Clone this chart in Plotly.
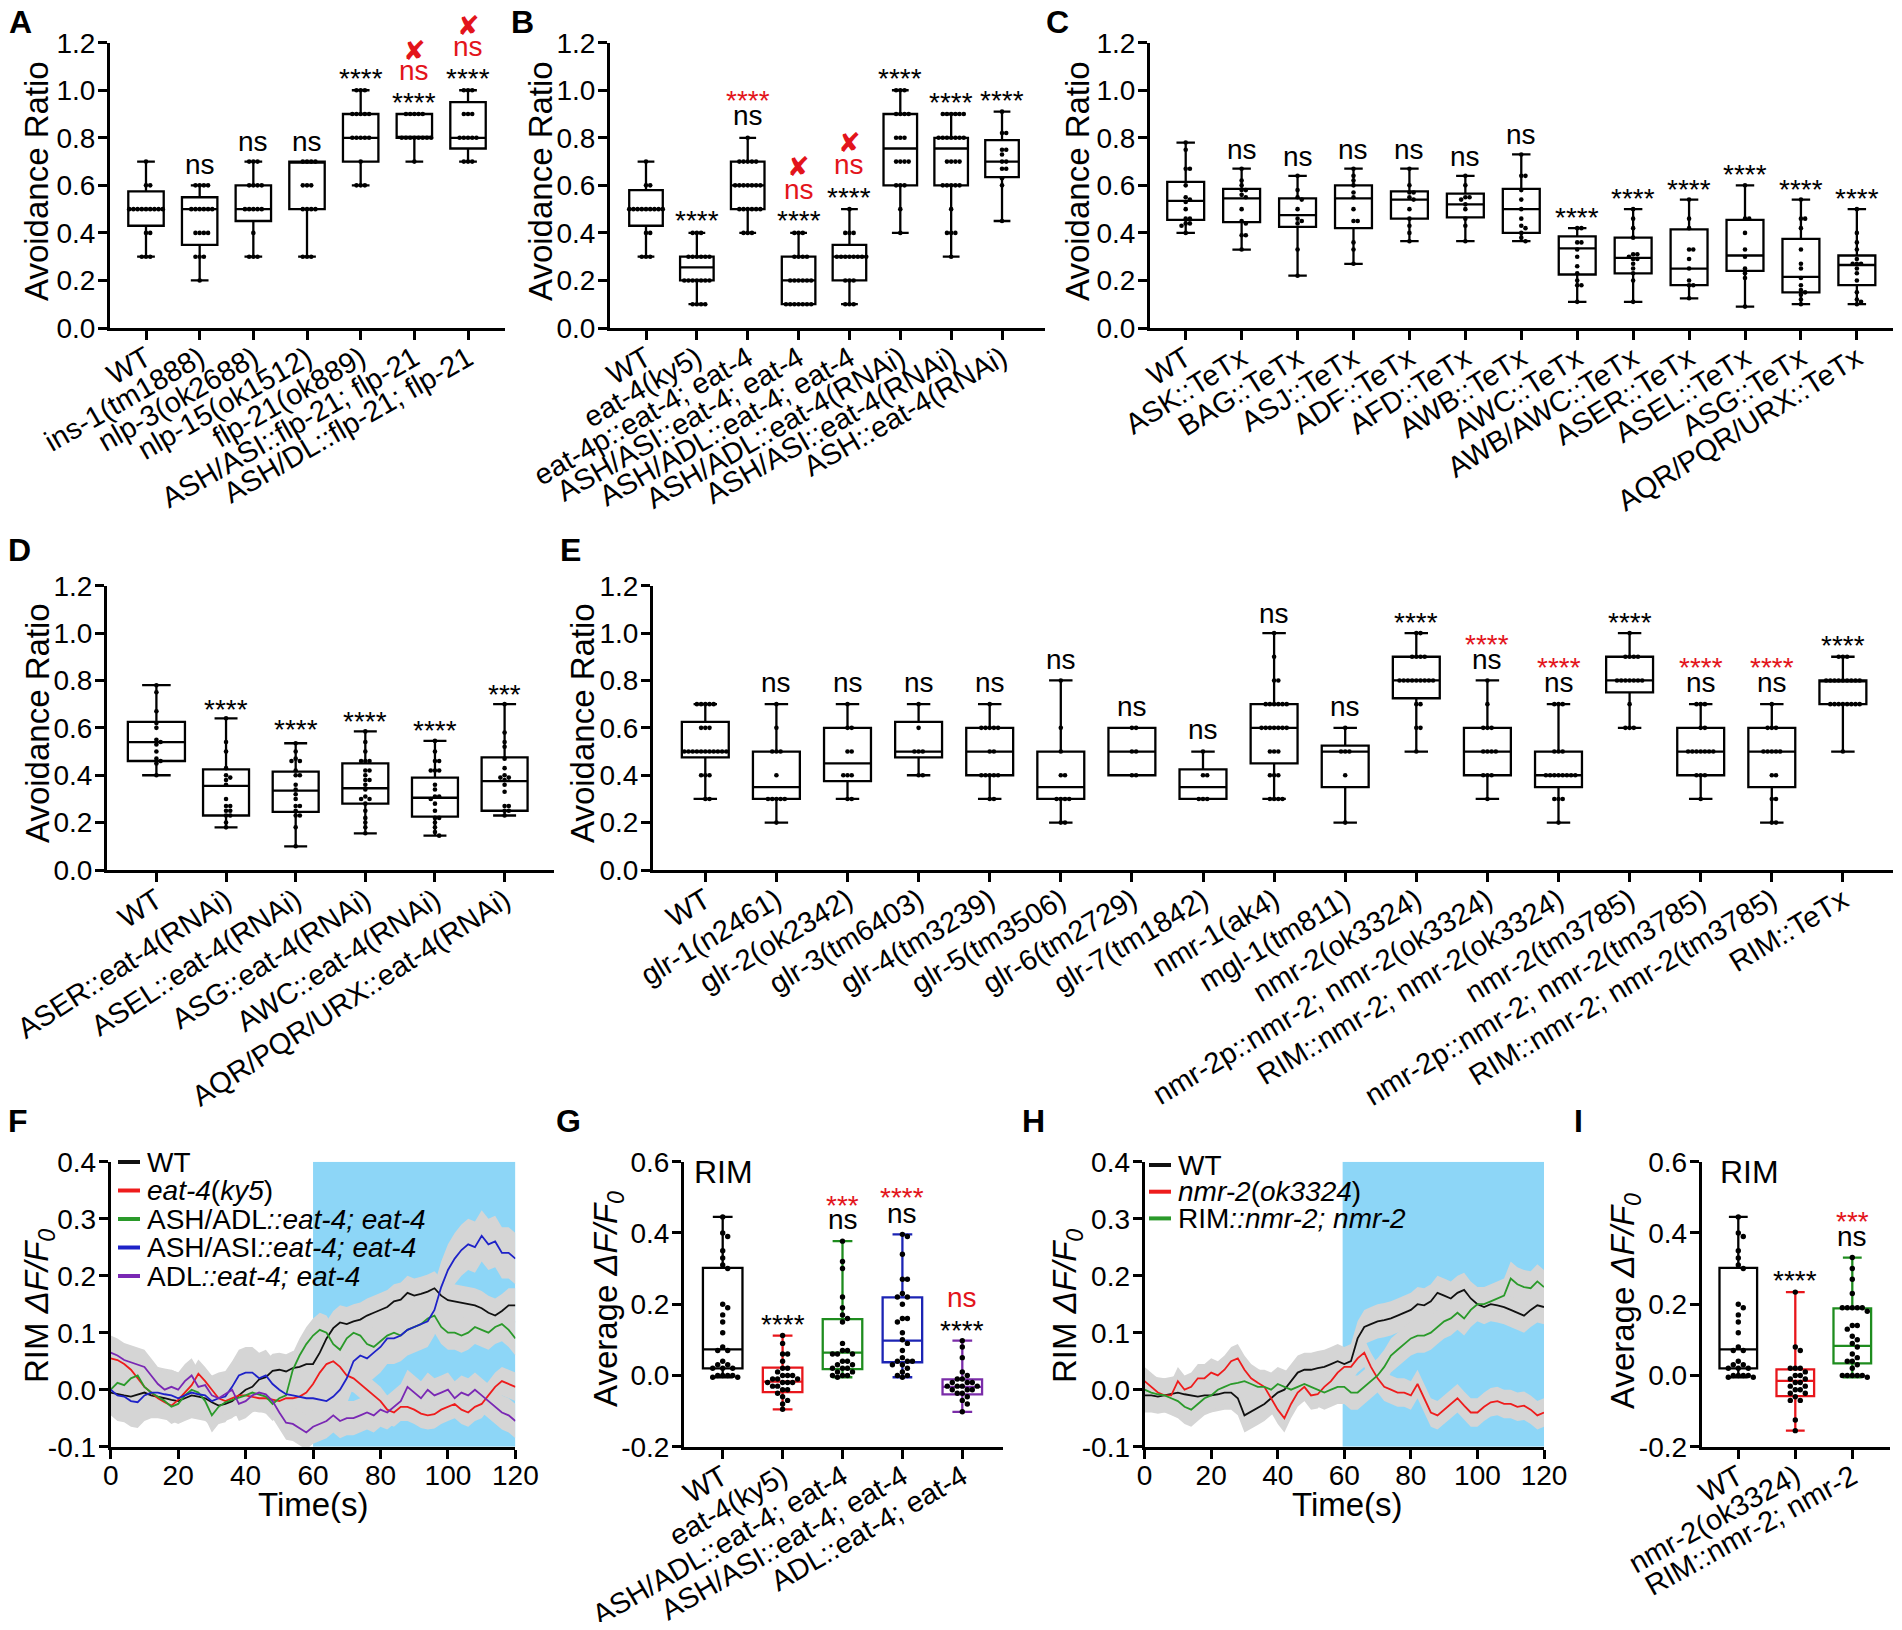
import plotly.graph_objects as go

# ---------------- DATA ----------------
# A: neuropeptide mutants, avoidance ratio
a_cats = ['WT', 'ins-1(tm1888)', 'nlp-3(ok2688)', 'nlp-15(ok1512)', 'flp-21(ok889)',
          'ASH/ASI::flp-21; flp-21', 'ASH/DL::flp-21; flp-21']
a_q1 = [0.43, 0.35, 0.45, 0.5, 0.7, 0.8, 0.755]
a_med = [0.5, 0.5, 0.5, 0.7, 0.8, 0.8, 0.8]
a_q3 = [0.575, 0.55, 0.6, 0.7, 0.9, 0.9, 0.95]
a_lo = [0.3, 0.2, 0.3, 0.3, 0.6, 0.7, 0.7]
a_hi = [0.7, 0.6, 0.7, 0.7, 1.0, 0.9, 1.0]
a_pts = [
    [0.7, 0.6, 0.6, 0.5, 0.5, 0.5, 0.5, 0.5, 0.5, 0.5, 0.5, 0.5, 0.4, 0.4, 0.3, 0.3, 0.3],
    [0.6, 0.6, 0.6, 0.6, 0.5, 0.5, 0.5, 0.5, 0.5, 0.5, 0.4, 0.4, 0.4, 0.4, 0.3, 0.3, 0.3, 0.2],
    [0.7, 0.7, 0.7, 0.6, 0.6, 0.6, 0.6, 0.5, 0.5, 0.5, 0.5, 0.5, 0.4, 0.3, 0.3, 0.3],
    [0.7, 0.7, 0.7, 0.7, 0.6, 0.6, 0.6, 0.5, 0.5, 0.5, 0.5, 0.3, 0.3, 0.3],
    [1.0, 1.0, 1.0, 0.9, 0.9, 0.9, 0.9, 0.9, 0.8, 0.8, 0.8, 0.8, 0.8, 0.7, 0.6, 0.6, 0.6],
    [0.9, 0.9, 0.9, 0.9, 0.9, 0.8, 0.8, 0.8, 0.8, 0.8, 0.8, 0.8, 0.8, 0.7],
    [1.0, 1.0, 1.0, 0.9, 0.9, 0.9, 0.8, 0.8, 0.8, 0.8, 0.8, 0.7, 0.7, 0.7],
]
a_marks = [(1, 0.679, 'ns', 'k'), (2, 0.777, 'ns', 'k'), (3, 0.777, 'ns', 'k'),
           (4, 1.074, '****', 'k'),
           (5, 0.973, '****', 'k'), (5, 1.074, 'ns', 'r'), (5, 1.169, '✘', 'r'),
           (6, 1.074, '****', 'k'), (6, 1.176, 'ns', 'r'), (6, 1.274, '✘', 'r')]

# B: eat-4 rescue / RNAi
b_cats = ['WT', 'eat-4(ky5)', 'eat-4p::eat-4; eat-4', 'ASH/ASI::eat-4; eat-4',
          'ASH/ADL::eat-4; eat-4', 'ASH/ADL::eat-4(RNAi)', 'ASH/ASI::eat-4(RNAi)',
          'ASH::eat-4(RNAi)']
b_q1 = [0.43, 0.2, 0.5, 0.1, 0.2, 0.6, 0.6, 0.635]
b_med = [0.5, 0.255, 0.6, 0.2, 0.3, 0.755, 0.755, 0.7]
b_q3 = [0.58, 0.3, 0.7, 0.3, 0.35, 0.9, 0.8, 0.79]
b_lo = [0.3, 0.1, 0.4, 0.1, 0.1, 0.4, 0.3, 0.45]
b_hi = [0.7, 0.4, 0.8, 0.4, 0.5, 1.0, 0.9, 0.91]
b_pts = [
    [0.7, 0.6, 0.6, 0.5, 0.5, 0.5, 0.5, 0.5, 0.5, 0.5, 0.5, 0.5, 0.4, 0.4, 0.3, 0.3, 0.3],
    [0.4, 0.4, 0.4, 0.3, 0.3, 0.3, 0.3, 0.3, 0.3, 0.2, 0.2, 0.2, 0.2, 0.2, 0.2, 0.2,
     0.1, 0.1, 0.1, 0.1],
    [0.8, 0.7, 0.7, 0.7, 0.7, 0.7, 0.6, 0.6, 0.6, 0.6, 0.6, 0.6, 0.6, 0.5, 0.5, 0.5,
     0.5, 0.5, 0.5, 0.4, 0.4, 0.4],
    [0.4, 0.4, 0.4, 0.3, 0.3, 0.3, 0.3, 0.2, 0.2, 0.2, 0.2, 0.2, 0.2, 0.1, 0.1, 0.1,
     0.1, 0.1, 0.1, 0.1],
    [0.5, 0.4, 0.4, 0.4, 0.3, 0.3, 0.3, 0.3, 0.3, 0.3, 0.3, 0.3, 0.2, 0.2, 0.2, 0.1, 0.1, 0.1],
    [1.0, 1.0, 1.0, 0.9, 0.9, 0.9, 0.9, 0.8, 0.8, 0.8, 0.7, 0.7, 0.7, 0.7, 0.6, 0.6,
     0.6, 0.5, 0.4],
    [0.9, 0.9, 0.9, 0.9, 0.9, 0.9, 0.8, 0.8, 0.8, 0.8, 0.8, 0.8, 0.8, 0.7, 0.7, 0.7,
     0.7, 0.6, 0.6, 0.6, 0.6, 0.6, 0.5, 0.4, 0.4, 0.4, 0.3],
    [0.91, 0.82, 0.82, 0.75, 0.75, 0.73, 0.7, 0.7, 0.67, 0.67, 0.63, 0.6, 0.45],
]
b_marks = [(1, 0.477, '****', 'k'),
           (2, 0.982, '****', 'r'), (2, 0.884, 'ns', 'k'),
           (3, 0.477, '****', 'k'), (3, 0.575, 'ns', 'r'), (3, 0.681, '✘', 'r'),
           (4, 0.575, '****', 'k'), (4, 0.681, 'ns', 'r'), (4, 0.779, '✘', 'r'),
           (5, 1.074, '****', 'k'), (6, 0.973, '****', 'k'), (7, 0.982, '****', 'k')]

# C: TeTx silencing
c_cats = ['WT', 'ASK::TeTx', 'BAG::TeTx', 'ASJ::TeTx', 'ADF::TeTx', 'AFD::TeTx',
          'AWB::TeTx', 'AWC::TeTx', 'AWB/AWC::TeTx', 'ASER::TeTx', 'ASEL::TeTx',
          'ASG::TeTx', 'AQR/PQR/URX::TeTx']
c_q1 = [0.455, 0.445, 0.425, 0.42, 0.46, 0.465, 0.4, 0.225, 0.23, 0.18, 0.24, 0.15, 0.18]
c_med = [0.535, 0.545, 0.475, 0.545, 0.54, 0.52, 0.5, 0.335, 0.295, 0.25, 0.305, 0.215, 0.265]
c_q3 = [0.615, 0.585, 0.545, 0.6, 0.575, 0.565, 0.585, 0.385, 0.38, 0.415, 0.455, 0.375, 0.305]
c_lo = [0.4, 0.33, 0.22, 0.27, 0.365, 0.365, 0.365, 0.11, 0.11, 0.125, 0.09, 0.1, 0.1]
c_hi = [0.78, 0.67, 0.64, 0.67, 0.67, 0.64, 0.73, 0.42, 0.5, 0.54, 0.6, 0.54, 0.5]
c_pts = [
    [0.78, 0.75, 0.67, 0.67, 0.6, 0.55, 0.54, 0.53, 0.5, 0.46, 0.46, 0.44, 0.44, 0.43, 0.4],
    [0.67, 0.62, 0.6, 0.58, 0.58, 0.56, 0.55, 0.5, 0.45, 0.44, 0.39, 0.39, 0.33],
    [0.64, 0.58, 0.55, 0.54, 0.5, 0.46, 0.45, 0.44, 0.33, 0.22],
    [0.67, 0.64, 0.62, 0.6, 0.57, 0.55, 0.5, 0.45, 0.45, 0.36, 0.33, 0.27],
    [0.67, 0.6, 0.57, 0.57, 0.55, 0.54, 0.5, 0.46, 0.43, 0.4, 0.365],
    [0.64, 0.6, 0.55, 0.55, 0.54, 0.52, 0.5, 0.46, 0.43, 0.365],
    [0.73, 0.64, 0.64, 0.58, 0.54, 0.5, 0.46, 0.43, 0.42, 0.4, 0.38, 0.365],
    [0.42, 0.42, 0.36, 0.36, 0.33, 0.3, 0.26, 0.23, 0.2, 0.18, 0.18, 0.11],
    [0.5, 0.46, 0.42, 0.38, 0.31, 0.31, 0.3, 0.29, 0.29, 0.27, 0.25, 0.23, 0.2, 0.11],
    [0.54, 0.46, 0.42, 0.33, 0.33, 0.29, 0.25, 0.2, 0.18, 0.18, 0.125],
    [0.6, 0.46, 0.46, 0.4, 0.33, 0.3, 0.25, 0.23, 0.21, 0.09],
    [0.54, 0.46, 0.46, 0.42, 0.33, 0.27, 0.25, 0.21, 0.18, 0.16, 0.15, 0.14, 0.12, 0.1],
    [0.5, 0.4, 0.36, 0.33, 0.29, 0.27, 0.27, 0.27, 0.25, 0.23, 0.2, 0.15, 0.12, 0.11, 0.1],
]
c_marks = [(1, 0.742, 'ns', 'k'), (2, 0.714, 'ns', 'k'), (3, 0.742, 'ns', 'k'),
           (4, 0.742, 'ns', 'k'), (5, 0.714, 'ns', 'k'), (6, 0.805, 'ns', 'k'),
           (7, 0.49, '****', 'k'), (8, 0.57, '****', 'k'), (9, 0.609, '****', 'k'),
           (10, 0.672, '****', 'k'), (11, 0.609, '****', 'k'), (12, 0.57, '****', 'k')]

# D: cell-specific eat-4 RNAi
d_cats = ['WT', 'ASER::eat-4(RNAi)', 'ASEL::eat-4(RNAi)', 'ASG::eat-4(RNAi)',
          'AWC::eat-4(RNAi)', 'AQR/PQR/URX::eat-4(RNAi)']
d_q1 = [0.46, 0.23, 0.245, 0.28, 0.225, 0.25]
d_med = [0.54, 0.355, 0.335, 0.345, 0.305, 0.375]
d_q3 = [0.625, 0.425, 0.415, 0.45, 0.39, 0.475]
d_lo = [0.4, 0.18, 0.1, 0.155, 0.145, 0.23]
d_hi = [0.78, 0.64, 0.535, 0.585, 0.545, 0.7]
d_pts = [
    [0.78, 0.75, 0.67, 0.62, 0.6, 0.55, 0.54, 0.53, 0.5, 0.47, 0.46, 0.45, 0.4],
    [0.64, 0.54, 0.5, 0.43, 0.4, 0.39, 0.38, 0.36, 0.3, 0.27, 0.27, 0.25, 0.25, 0.23,
     0.23, 0.2, 0.18],
    [0.535, 0.5, 0.47, 0.46, 0.46, 0.42, 0.4, 0.4, 0.36, 0.34, 0.32, 0.3, 0.27, 0.27,
     0.25, 0.23, 0.23, 0.18, 0.1],
    [0.585, 0.54, 0.5, 0.46, 0.46, 0.46, 0.42, 0.42, 0.4, 0.38, 0.38, 0.36, 0.34, 0.31,
     0.3, 0.3, 0.28, 0.25, 0.22, 0.2, 0.18, 0.155],
    [0.545, 0.5, 0.46, 0.46, 0.42, 0.42, 0.42, 0.36, 0.34, 0.31, 0.31, 0.3, 0.28, 0.25,
     0.22, 0.22, 0.2, 0.18, 0.16, 0.145],
    [0.7, 0.58, 0.54, 0.52, 0.47, 0.43, 0.4, 0.39, 0.39, 0.38, 0.36, 0.33, 0.27, 0.27,
     0.25, 0.25, 0.23],
]
d_marks = [(1, 0.703, '****', 'k'), (2, 0.619, '****', 'k'), (3, 0.654, '****', 'k'),
           (4, 0.615, '****', 'k'), (5, 0.767, '***', 'k')]

# E: glutamate receptor mutants
e_cats = ['WT', 'glr-1(n2461)', 'glr-2(ok2342)', 'glr-3(tm6403)', 'glr-4(tm3239)',
          'glr-5(tm3506)', 'glr-6(tm2729)', 'glr-7(tm1842)', 'nmr-1(ak4)', 'mgl-1(tm811)',
          'nmr-2(ok3324)', 'nmr-2p::nmr-2; nmr-2(ok3324)', 'RIM::nmr-2; nmr-2(ok3324)',
          'nmr-2(tm3785)', 'nmr-2p::nmr-2; nmr-2(tm3785)', 'RIM::nmr-2; nmr-2(tm3785)',
          'RIM::TeTx']
e_q1 = [0.475, 0.3, 0.375, 0.475, 0.4, 0.3, 0.4, 0.3, 0.45, 0.35, 0.725, 0.4, 0.35,
        0.75, 0.4, 0.35, 0.7]
e_med = [0.5, 0.35, 0.45, 0.5, 0.5, 0.35, 0.5, 0.35, 0.6, 0.5, 0.8, 0.5, 0.4, 0.8, 0.5,
         0.5, 0.8]
e_q3 = [0.625, 0.5, 0.6, 0.625, 0.6, 0.5, 0.6, 0.425, 0.7, 0.525, 0.9, 0.6, 0.5, 0.9,
        0.6, 0.6, 0.8]
e_lo = [0.3, 0.2, 0.3, 0.4, 0.3, 0.2, 0.4, 0.3, 0.3, 0.2, 0.5, 0.3, 0.2, 0.6, 0.3, 0.2, 0.5]
e_hi = [0.7, 0.7, 0.7, 0.7, 0.7, 0.8, 0.6, 0.5, 1.0, 0.6, 1.0, 0.8, 0.7, 1.0, 0.7, 0.7, 0.9]
e_pts = [
    [0.7, 0.7, 0.7, 0.7, 0.7, 0.6, 0.6, 0.6, 0.5, 0.5, 0.5, 0.5, 0.5, 0.5, 0.5, 0.5,
     0.5, 0.5, 0.5, 0.4, 0.4, 0.4, 0.3, 0.3],
    [0.7, 0.6, 0.5, 0.5, 0.5, 0.4, 0.3, 0.3, 0.3, 0.3, 0.3, 0.2],
    [0.7, 0.6, 0.6, 0.5, 0.5, 0.4, 0.4, 0.4, 0.3, 0.3],
    [0.7, 0.6, 0.5, 0.5, 0.5, 0.4, 0.4],
    [0.7, 0.6, 0.6, 0.6, 0.6, 0.6, 0.5, 0.5, 0.4, 0.4, 0.4, 0.4, 0.4, 0.3, 0.3],
    [0.8, 0.6, 0.5, 0.4, 0.4, 0.3, 0.3, 0.3, 0.3, 0.2, 0.2],
    [0.6, 0.6, 0.5, 0.5, 0.4, 0.4],
    [0.5, 0.4, 0.4, 0.3, 0.3, 0.3],
    [1.0, 0.9, 0.8, 0.8, 0.7, 0.7, 0.7, 0.7, 0.7, 0.7, 0.6, 0.6, 0.6, 0.6, 0.6, 0.6,
     0.6, 0.5, 0.5, 0.5, 0.4, 0.4, 0.4, 0.3, 0.3, 0.3, 0.3],
    [0.6, 0.5, 0.5, 0.5, 0.4, 0.2],
    [1.0, 1.0, 0.9, 0.9, 0.9, 0.9, 0.8, 0.8, 0.8, 0.8, 0.8, 0.8, 0.8, 0.8, 0.8, 0.7,
     0.7, 0.6, 0.6, 0.5],
    [0.8, 0.7, 0.6, 0.6, 0.6, 0.5, 0.5, 0.5, 0.5, 0.4, 0.4, 0.4, 0.3],
    [0.7, 0.7, 0.7, 0.5, 0.5, 0.5, 0.4, 0.4, 0.4, 0.4, 0.4, 0.4, 0.4, 0.4, 0.3, 0.3,
     0.3, 0.2],
    [1.0, 0.9, 0.9, 0.9, 0.9, 0.8, 0.8, 0.8, 0.8, 0.8, 0.8, 0.8, 0.7, 0.6, 0.6, 0.6],
    [0.7, 0.7, 0.7, 0.6, 0.6, 0.5, 0.5, 0.5, 0.5, 0.5, 0.5, 0.5, 0.4, 0.4, 0.4, 0.3],
    [0.7, 0.6, 0.6, 0.6, 0.5, 0.5, 0.5, 0.5, 0.5, 0.4, 0.4, 0.3, 0.3, 0.2, 0.2],
    [0.9, 0.9, 0.9, 0.8, 0.8, 0.8, 0.8, 0.8, 0.8, 0.8, 0.8, 0.8, 0.7, 0.7, 0.7, 0.7,
     0.7, 0.7, 0.7, 0.7, 0.5],
]
e_marks = [(1, 0.781, 'ns', 'k'), (2, 0.781, 'ns', 'k'), (3, 0.781, 'ns', 'k'),
           (4, 0.781, 'ns', 'k'), (5, 0.879, 'ns', 'k'), (6, 0.682, 'ns', 'k'),
           (7, 0.584, 'ns', 'k'), (8, 1.076, 'ns', 'k'), (9, 0.682, 'ns', 'k'),
           (10, 1.069, '****', 'k'),
           (11, 0.978, '****', 'r'), (11, 0.879, 'ns', 'k'),
           (12, 0.879, '****', 'r'), (12, 0.781, 'ns', 'k'),
           (13, 1.069, '****', 'k'),
           (14, 0.879, '****', 'r'), (14, 0.781, 'ns', 'k'),
           (15, 0.879, '****', 'r'), (15, 0.781, 'ns', 'k'),
           (16, 0.971, '****', 'k')]

# F: RIM calcium traces (mean, sampled every 2 s)
f_time = list(range(0, 121, 2))
f_wt = [-0.005, -0.008, -0.010, -0.012, -0.008, -0.005, -0.010, -0.012, -0.015, -0.018,
        -0.020, -0.015, -0.010, -0.012, -0.015, -0.022, -0.028, -0.025, -0.020, -0.010,
        0.000, 0.005, 0.018, 0.022, 0.033, 0.035, 0.032, 0.038, 0.040, 0.045,
        0.045, 0.065, 0.090, 0.108, 0.118, 0.115, 0.120, 0.123, 0.130, 0.135,
        0.140, 0.145, 0.155, 0.158, 0.170, 0.165, 0.168, 0.172, 0.178, 0.165,
        0.157, 0.155, 0.152, 0.150, 0.148, 0.143, 0.135, 0.130, 0.138, 0.148,
        0.148]
f_eat4 = [0.055, 0.052, 0.045, 0.035, 0.020, 0.005, -0.005, -0.015, -0.022, -0.028,
          -0.018, -0.005, 0.008, 0.028, 0.015, 0.000, -0.015, -0.020, -0.015, -0.010,
          -0.010, -0.012, -0.015, -0.015, -0.018, -0.020, -0.015, -0.015, -0.012, -0.005,
          0.010, 0.030, 0.045, 0.050, 0.040, 0.025, 0.020, 0.010, 0.000, -0.010,
          -0.020, -0.035, -0.040, -0.030, -0.030, -0.035, -0.042, -0.045, -0.043, -0.035,
          -0.030, -0.025, -0.035, -0.040, -0.030, -0.025, -0.010, 0.005, 0.015, 0.010,
          0.005]
f_ash_adl = [0.000, 0.012, 0.008, 0.020, 0.025, 0.005, -0.005, -0.012, -0.020, -0.030,
             -0.025, -0.010, 0.000, -0.005, -0.020, -0.045, -0.030, -0.022, -0.018, -0.015,
             -0.010, -0.005, -0.008, -0.012, -0.025, -0.015, -0.010, 0.035, 0.060, 0.080,
             0.095, 0.105, 0.100, 0.080, 0.070, 0.090, 0.100, 0.095, 0.080, 0.075,
             0.085, 0.095, 0.100, 0.095, 0.105, 0.110, 0.115, 0.125, 0.130, 0.110,
             0.100, 0.100, 0.095, 0.100, 0.110, 0.105, 0.100, 0.110, 0.115, 0.105,
             0.090]
f_ash_asi = [0.000, -0.010, -0.012, -0.020, -0.022, -0.010, -0.005, -0.005, -0.008, -0.010,
             -0.015, -0.010, -0.005, -0.008, -0.010, -0.020, -0.015, -0.012, 0.005, 0.025,
             0.030, 0.030, 0.020, 0.025, 0.010, 0.000, -0.008, -0.010, -0.012, -0.015,
             -0.015, -0.018, -0.020, -0.012, 0.000, 0.020, 0.050, 0.060, 0.055, 0.065,
             0.075, 0.090, 0.090, 0.095, 0.105, 0.110, 0.115, 0.120, 0.140, 0.180,
             0.210, 0.230, 0.245, 0.255, 0.250, 0.270, 0.255, 0.260, 0.240, 0.240,
             0.230]
f_adl = [0.065, 0.060, 0.052, 0.048, 0.045, 0.040, 0.025, 0.010, 0.000, 0.005,
         0.000, 0.015, 0.025, 0.005, 0.008, -0.010, -0.015, -0.008, 0.000, -0.025,
         -0.020, -0.010, -0.005, -0.008, -0.020, -0.040, -0.058, -0.060, -0.068, -0.075,
         -0.065, -0.060, -0.055, -0.045, -0.055, -0.050, -0.050, -0.045, -0.040, -0.045,
         -0.035, -0.040, -0.030, -0.020, 0.005, -0.005, -0.015, 0.000, -0.010, -0.005,
         0.000, -0.015, -0.005, -0.010, 0.000, -0.010, -0.020, -0.030, -0.040, -0.045,
         -0.055]
f_sem = [0.03, 0.025, 0.03, 0.045, 0.03]
f_names = ['WT', '<i>eat-4</i>(<i>ky5</i>)', 'ASH/ADL<i>::eat-4; eat-4</i>',
           'ASH/ASI<i>::eat-4; eat-4</i>', 'ADL<i>::eat-4; eat-4</i>']
f_stim = (60, 120)

# G: average RIM response
g_cats = ['WT', 'eat-4(ky5)', 'ASH/ADL::eat-4; eat-4', 'ASH/ASI::eat-4; eat-4',
          'ADL::eat-4; eat-4']
g_q1 = [0.02, -0.047, 0.018, 0.037, -0.053]
g_med = [0.073, -0.0175, 0.064, 0.0975, -0.032]
g_q3 = [0.302, 0.022, 0.158, 0.219, -0.011]
g_lo = [-0.005, -0.095, -0.005, -0.005, -0.102]
g_hi = [0.445, 0.112, 0.377, 0.396, 0.0975]
g_pts = [
    [0.445, 0.4, 0.39, 0.35, 0.33, 0.31, 0.3, 0.2, 0.19, 0.17, 0.15, 0.12, 0.08, 0.07,
     0.07, 0.04, 0.03, 0.03, 0.02, 0.02, 0.02, 0.0, 0.0, 0.0, 0.0, -0.005, -0.005],
    [0.112, 0.09, 0.06, 0.06, 0.04, 0.02, 0.02, 0.01, 0.0, 0.0, 0.0, -0.01, -0.01, -0.01,
     -0.02, -0.02, -0.02, -0.02, -0.03, -0.03, -0.04, -0.04, -0.05, -0.06, -0.07, -0.08,
     -0.095],
    [0.377, 0.32, 0.3, 0.22, 0.19, 0.17, 0.16, 0.15, 0.09, 0.07, 0.07, 0.06, 0.06, 0.06,
     0.04, 0.04, 0.03, 0.03, 0.02, 0.02, 0.02, 0.01, 0.01, 0.0, 0.0, 0.0, -0.005],
    [0.396, 0.39, 0.34, 0.27, 0.27, 0.23, 0.22, 0.22, 0.2, 0.16, 0.16, 0.15, 0.12, 0.1,
     0.09, 0.07, 0.05, 0.04, 0.04, 0.04, 0.03, 0.03, 0.02, 0.01, 0.0, 0.0, -0.005],
    [0.0975, 0.08, 0.05, 0.01, 0.0, -0.01, -0.01, -0.02, -0.02, -0.02, -0.03, -0.03,
     -0.03, -0.03, -0.04, -0.04, -0.04, -0.05, -0.05, -0.06, -0.07, -0.08, -0.102],
]
g_marks = [(1, 0.16, '****', 'k'), (2, 0.494, '***', 'r'), (2, 0.432, 'ns', 'k'),
           (3, 0.516, '****', 'r'), (3, 0.45, 'ns', 'k'),
           (4, 0.212, 'ns', 'r'), (4, 0.144, '****', 'k')]

# H: RIM calcium traces, nmr-2
h_time = list(range(0, 121, 2))
h_wt = [-0.010, -0.010, -0.012, -0.010, -0.008, -0.005, -0.008, -0.010, -0.012, -0.010,
        -0.010, -0.008, -0.005, -0.005, -0.015, -0.045, -0.038, -0.032, -0.025, -0.015,
        -0.005, 0.000, 0.015, 0.030, 0.035, 0.035, 0.038, 0.040, 0.045, 0.050,
        0.045, 0.050, 0.090, 0.110, 0.115, 0.120, 0.122, 0.125, 0.130, 0.135,
        0.140, 0.150, 0.148, 0.155, 0.170, 0.165, 0.160, 0.170, 0.175, 0.160,
        0.150, 0.145, 0.150, 0.148, 0.145, 0.140, 0.135, 0.130, 0.140, 0.148,
        0.145]
h_nmr2 = [0.015, 0.005, -0.005, -0.010, -0.010, 0.015, 0.000, 0.005, 0.020, 0.020,
          0.030, 0.025, 0.035, 0.050, 0.055, 0.035, 0.020, 0.012, 0.005, -0.015,
          -0.035, -0.050, -0.025, -0.005, 0.005, -0.010, -0.008, 0.005, 0.015, 0.030,
          0.040, 0.040, 0.055, 0.065, 0.040, 0.020, 0.005, 0.000, -0.005, -0.005,
          -0.010, 0.010, -0.015, -0.040, -0.045, -0.035, -0.025, -0.015, -0.028, -0.040,
          -0.040, -0.030, -0.022, -0.020, -0.025, -0.025, -0.030, -0.028, -0.035, -0.045,
          -0.040]
h_rim = [0.000, -0.005, -0.008, -0.010, -0.015, -0.020, -0.030, -0.035, -0.025, -0.015,
         -0.010, 0.000, 0.005, 0.010, 0.012, 0.015, 0.010, 0.005, 0.005, 0.000,
         0.010, 0.005, 0.000, 0.005, 0.010, 0.005, 0.000, -0.005, 0.000, 0.005,
         0.005, -0.005, -0.005, 0.005, 0.015, 0.025, 0.040, 0.060, 0.070, 0.080,
         0.090, 0.095, 0.095, 0.100, 0.110, 0.120, 0.125, 0.135, 0.125, 0.140,
         0.150, 0.150, 0.155, 0.160, 0.165, 0.195, 0.185, 0.180, 0.178, 0.190,
         0.180]
h_sem = [0.03, 0.025, 0.03]
h_names = ['WT', '<i>nmr-2</i>(<i>ok3324</i>)', 'RIM<i>::nmr-2; nmr-2</i>']
h_stim = (59.5, 120)

# I: average RIM response, nmr-2
i_cats = ['WT', 'nmr-2(ok3324)', 'RIM::nmr-2; nmr-2']
i_q1 = [0.02, -0.058, 0.034]
i_med = [0.073, -0.015, 0.083]
i_q3 = [0.302, 0.017, 0.188]
i_lo = [-0.005, -0.155, -0.005]
i_hi = [0.445, 0.234, 0.331]
i_pts = [
    [0.445, 0.4, 0.39, 0.35, 0.33, 0.31, 0.3, 0.2, 0.19, 0.17, 0.15, 0.12, 0.08, 0.07,
     0.07, 0.04, 0.03, 0.03, 0.02, 0.02, 0.02, 0.0, 0.0, 0.0, 0.0, -0.005, -0.005],
    [0.234, 0.08, 0.07, 0.02, 0.02, 0.02, 0.01, 0.0, 0.0, -0.01, -0.01, -0.02, -0.02,
     -0.03, -0.03, -0.04, -0.04, -0.05, -0.05, -0.06, -0.07, -0.07, -0.125, -0.155],
    [0.331, 0.3, 0.27, 0.23, 0.19, 0.19, 0.19, 0.19, 0.19, 0.18, 0.14, 0.14, 0.13, 0.11,
     0.1, 0.09, 0.08, 0.06, 0.05, 0.04, 0.04, 0.03, 0.02, 0.0, 0.0, 0.0, 0.0, 0.0, -0.005],
]
i_marks = [(1, 0.282, '****', 'k'), (2, 0.448, '***', 'r'), (2, 0.385, 'ns', 'k')]

# ---------------- STYLE / GEOMETRY (pixels of the 1902x1630 page) ----------------
FONT = 'Liberation Sans, Arial, sans-serif'
RED = '#E3141B'
MARK_COL = {'k': 'black', 'r': RED}
LINE_COLS = ['#111111', '#EE1C1C', '#2A9A2A', '#1E22C8', '#7A28B4']
BOX_COLS_G = ['black', '#E8161B', '#1E8C1E', '#1C24B4', '#7A2CA8']
BOX_COLS_I = ['black', '#E8161B', '#1E8C1E']
STIM_COL = '#8DD6F7'
BAND_COL = '#D5D5D5'

OX, OY = 8, 8          # default body margin of the page
W, H = 1886, 1614


def fx(p):
    return min(1.0, max(0.0, (p - OX) / W))


def fy(p):
    return min(1.0, max(0.0, 1 - (p - OY) / H))


box_geom = {
    'A': dict(n=1, x0=110, x1=505, top=42.7, bot=328, tick0=146, step=53.67, yr=(0, 1.2), ang=-30),
    'B': dict(n=2, x0=610, x1=1045, top=42.7, bot=328, tick0=646, step=50.86, yr=(0, 1.2), ang=-30),
    'C': dict(n=3, x0=1150, x1=1893, top=42.7, bot=328, tick0=1185.7, step=55.93, yr=(0, 1.2), ang=-32),
    'D': dict(n=4, x0=107, x1=554, top=585.7, bot=870, tick0=156.4, step=69.64, yr=(0, 1.2), ang=-33),
    'E': dict(n=5, x0=653, x1=1893, top=585.7, bot=870, tick0=705.3, step=71.1, yr=(0, 1.2), ang=-31),
    'G': dict(n=7, x0=684, x1=1003, top=1161.7, bot=1446.7, tick0=722.7, step=59.9, yr=(-0.2, 0.6), ang=-30),
    'I': dict(n=9, x0=1701.7, x1=1890, top=1161.7, bot=1446.7, tick0=1738.3, step=57, yr=(-0.2, 0.6), ang=-29),
}
trace_geom = {
    'F': dict(n=6, x0=110.7, x1=515.4, top=1161.7, bot=1446.7),
    'H': dict(n=8, x0=1144.6, x1=1544, top=1161.7, bot=1446.7),
}

fig = go.Figure()
layout = {}
annotations = []
shapes = []


def axis_style():
    return dict(showline=True, linecolor='black', linewidth=3, ticks='outside', ticklen=9,
                tickwidth=3, tickcolor='black', showgrid=False, zeroline=False,
                automargin=False, ticklabeloverflow='allow',
                tickfont=dict(family=FONT, size=28, color='black'))


def num_ticks(lo, hi, step):
    vals = []
    v = lo
    while v <= hi + 1e-9:
        vals.append(round(v, 3))
        v += step
    return dict(tickmode='array', tickvals=vals, ticktext=['%.1f' % t for t in vals])


def swarm(vals, ppu, step_px, d):
    # spread coincident dots sideways (pixel space), centred on the box
    placed = []
    offs = []
    cands = [0.0]
    for j in range(1, 40):
        cands += [j * d, -j * d]
    for v in vals:
        yv = v * ppu
        for c in cands:
            if all((c - px) ** 2 + (yv - py) ** 2 >= (0.97 * d) ** 2 for px, py in placed):
                break
        placed.append((c, yv))
        offs.append(c / step_px)
    return offs


def add_mark(xr, g, ppu, i, y, text, col):
    # x in data units, y converted to paper so marks above the axis top still show
    ypix = g['bot'] - (y - g['yr'][0]) * ppu
    if text == '✘':
        fnt = dict(family='DejaVu Sans', size=27, color=MARK_COL[col])
        ys = 0
    elif '*' in text:
        fnt = dict(family=FONT, size=28, color=MARK_COL[col])
        ys = -6
    else:
        fnt = dict(family=FONT, size=28, color=MARK_COL[col])
        ys = 2
    annotations.append(dict(x=i, y=fy(ypix), xref=xr, yref='paper', text=text,
                            showarrow=False, font=fnt, xanchor='center', yanchor='middle',
                            yshift=ys))


def box_panel(key, cats, q1, med, q3, lo, hi, pts, marks, colors=None, wide_first=False):
    g = box_geom[key]
    n = g['n']
    sfx = '' if n == 1 else str(n)
    xr, yr = 'x' + sfx, 'y' + sfx
    ppu = (g['bot'] - g['top']) / (g['yr'][1] - g['yr'][0])
    dot = 4.6 if g['yr'][0] == 0 else 5.4
    for i in range(len(cats)):
        col = colors[i] if colors else 'black'
        bw = 0.82 if (wide_first and i == 0) else 0.66
        fig.add_trace(go.Box(x=[i], q1=[q1[i]], median=[med[i]], q3=[q3[i]],
                             lowerfence=[lo[i]], upperfence=[hi[i]], width=bw,
                             whiskerwidth=0.5, boxpoints=False, fillcolor='rgba(0,0,0,0)',
                             line=dict(color=col, width=2.3), xaxis=xr, yaxis=yr,
                             showlegend=False, hoverinfo='skip'))
        offs = swarm(pts[i], ppu, g['step'], dot - 0.4)
        fig.add_trace(go.Scatter(x=[i + o for o in offs], y=pts[i], mode='markers',
                                 marker=dict(color='black', size=dot), xaxis=xr, yaxis=yr,
                                 showlegend=False, cliponaxis=False, hoverinfo='skip'))
    xa = axis_style()
    xa.update(domain=[fx(g['x0']), fx(g['x1'])], anchor=yr,
              range=[(g['x0'] - g['tick0']) / g['step'], (g['x1'] - g['tick0']) / g['step']],
              tickmode='array', tickvals=list(range(len(cats))), ticktext=cats,
              tickangle=g['ang'], ticklabelstandoff=-10,
              tickfont=dict(family=FONT, size=29, color='black'))
    ya = axis_style()
    ya.update(domain=[fy(g['bot']), fy(g['top'])], anchor=xr, range=list(g['yr']),
              ticklabelstandoff=-3, **num_ticks(g['yr'][0], g['yr'][1], 0.2))
    layout['xaxis' + sfx] = xa
    layout['yaxis' + sfx] = ya
    for i, y, text, col in marks:
        add_mark(xr, g, ppu, i, y, text, col)


def trace_panel(key, t, series, sems, names, stim, leg_x, leg_y0, leg_step):
    g = trace_geom[key]
    n = g['n']
    xr, yr = 'x' + str(n), 'y' + str(n)
    shapes.append(dict(type='rect', xref=xr, yref=yr, x0=stim[0], x1=stim[1], y0=-0.1,
                       y1=0.4, fillcolor=STIM_COL, line=dict(width=0), layer='below'))
    for s, e in zip(series, sems):
        up = [v + e for v in s]
        dn = [v - e for v in s]
        fig.add_trace(go.Scatter(x=t + t[::-1], y=up + dn[::-1], fill='toself',
                                 fillcolor=BAND_COL, line=dict(width=0), mode='lines',
                                 xaxis=xr, yaxis=yr, showlegend=False, hoverinfo='skip'))
    for k, s in enumerate(series):
        fig.add_trace(go.Scatter(x=t, y=s, mode='lines',
                                 line=dict(color=LINE_COLS[k], width=1.8),
                                 xaxis=xr, yaxis=yr, showlegend=False))
    xa = axis_style()
    xa.update(domain=[fx(g['x0']), fx(g['x1'])], anchor=yr, range=[0, 120], dtick=20,
              tick0=0, ticklabelstandoff=-7)
    ya = axis_style()
    ya.update(domain=[fy(g['bot']), fy(g['top'])], anchor=xr, range=[-0.1, 0.4],
              ticklabelstandoff=-3, **num_ticks(-0.1, 0.4, 0.1))
    layout['xaxis' + str(n)] = xa
    layout['yaxis' + str(n)] = ya
    # legend: short coloured bar + label
    for k, nm in enumerate(names):
        yy = leg_y0 + k * leg_step
        shapes.append(dict(type='line', xref='paper', yref='paper',
                           x0=fx(leg_x), x1=fx(leg_x + 22), y0=fy(yy), y1=fy(yy),
                           line=dict(color=LINE_COLS[k], width=4)))
        annotations.append(dict(x=fx(leg_x + 27), y=fy(yy), xref='paper', yref='paper',
                                text=nm, showarrow=False, xanchor='left', yanchor='middle',
                                font=dict(family=FONT, size=28, color='black')))


box_panel('A', a_cats, a_q1, a_med, a_q3, a_lo, a_hi, a_pts, a_marks)
box_panel('B', b_cats, b_q1, b_med, b_q3, b_lo, b_hi, b_pts, b_marks)
box_panel('C', c_cats, c_q1, c_med, c_q3, c_lo, c_hi, c_pts, c_marks)
box_panel('D', d_cats, d_q1, d_med, d_q3, d_lo, d_hi, d_pts, d_marks, wide_first=True)
box_panel('E', e_cats, e_q1, e_med, e_q3, e_lo, e_hi, e_pts, e_marks)
box_panel('G', g_cats, g_q1, g_med, g_q3, g_lo, g_hi, g_pts, g_marks, colors=BOX_COLS_G)
box_panel('I', i_cats, i_q1, i_med, i_q3, i_lo, i_hi, i_pts, i_marks, colors=BOX_COLS_I)

trace_panel('F', f_time, [f_wt, f_eat4, f_ash_adl, f_ash_asi, f_adl], f_sem, f_names,
            f_stim, 118, 1162, 28.5)
trace_panel('H', h_time, [h_wt, h_nmr2, h_rim], h_sem, h_names, h_stim, 1149, 1165, 26.7)

# axis titles (rotated texts placed beside each y axis)
dff = '<i>ΔF/F</i><sub><i>0</i></sub>'
titles = [('Avoidance Ratio', 36, 181, -90), ('Avoidance Ratio', 540, 181, -90),
          ('Avoidance Ratio', 1077, 181, -90), ('Avoidance Ratio', 37, 723, -90),
          ('Avoidance Ratio', 582, 723, -90), ('RIM ' + dff, 39, 1306, -90),
          ('Average ' + dff, 608, 1299, -90), ('RIM ' + dff, 1067, 1306, -90),
          ('Average ' + dff, 1625, 1301, -90), ('Time(s)', 313.6, 1504, 0),
          ('Time(s)', 1347.5, 1504, 0)]
for text, x, y, ang in titles:
    annotations.append(dict(x=fx(x), y=fy(y), xref='paper', yref='paper', text=text,
                            textangle=ang, showarrow=False, xanchor='center',
                            yanchor='middle', font=dict(family=FONT, size=33, color='black')))

# "RIM" labels inside G and I
for x in (692, 1718):
    annotations.append(dict(x=fx(x), y=fy(1172), xref='paper', yref='paper', text='RIM',
                            showarrow=False, xanchor='left', yanchor='middle',
                            font=dict(family=FONT, size=32, color='black')))

# panel letters
letters = [('A', 20, 22), ('B', 522, 22), ('C', 1057, 22), ('D', 19, 550), ('E', 570, 550),
           ('F', 18, 1121), ('G', 568, 1121), ('H', 1033, 1121), ('I', 1578, 1121)]
for lab, x, y in letters:
    annotations.append(dict(x=fx(x), y=fy(y), xref='paper', yref='paper',
                            text='<b>' + lab + '</b>', showarrow=False, xanchor='center',
                            yanchor='middle', font=dict(family=FONT, size=32, color='black')))

fig.update_layout(**layout)
fig.update_layout(width=W, height=H, margin=dict(l=0, r=0, t=0, b=0),
                  plot_bgcolor='white', paper_bgcolor='white', boxmode='overlay',
                  showlegend=False, font=dict(family=FONT, color='black'),
                  annotations=annotations, shapes=shapes)

fig.write_html('out.html')
